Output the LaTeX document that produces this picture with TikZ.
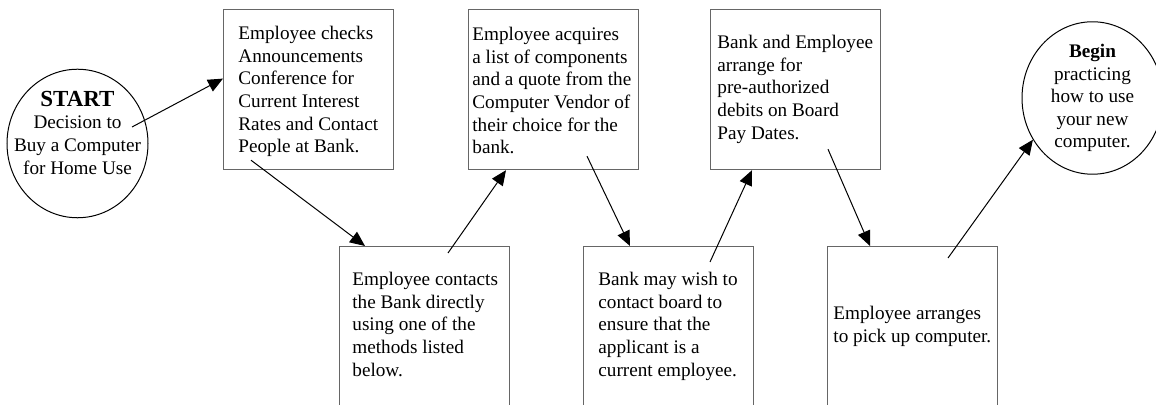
\documentclass[tikz,border=0pt]{standalone}
\usepackage{fontspec}
\setmainfont{Liberation Serif}
\usetikzlibrary{positioning, shapes.geometric, arrows.meta}

\tikzset{
  stepbox/.style={draw=black!60, line width=0.6pt, rectangle, anchor=north west, inner sep=0pt, minimum width=85pt, minimum height=80pt},
  lowbox/.style={stepbox, minimum height=84pt},
  steptext/.style={align=left, inner sep=0pt, anchor=north west, font=\fontsize{9.6}{11.3}\selectfont},
  endnode/.style={draw, ellipse, line width=0.5pt, inner sep=0pt, minimum width=70.5pt, minimum height=73.5pt, align=center, font=\fontsize{9.6}{11.3}\selectfont},
  flow/.style={-{Triangle[length=7.5pt, width=6.5pt]}, line width=0.5pt},
}

\begin{document}
\begin{tikzpicture}[x=0.5pt, y=-0.5pt]
    \path[use as bounding box, clip] (0,0) rectangle (1156,405);

    \node[endnode, inner xsep=-8pt] (S) at (77.5,143.5) {{\fontsize{11.5}{13}\selectfont\bfseries START}\\Decision to\\Buy a Computer\\for Home Use\rule[-11pt]{0pt}{0pt}};
    \node[endnode] (G) at (1092.5,98) {\textbf{Begin}\\practicing\\how to use\\your new\\computer.};

    \node[stepbox] (A) at (223,9) {};
    \node[lowbox] (B) at (339,246) {};
    \node[stepbox] (C) at (468,9) {};
    \node[lowbox] (D) at (583,246) {};
    \node[stepbox] (E) at (710,9) {};
    \node[lowbox] (F) at (827,246) {};

    \node[steptext, below right=8.5pt and 7.5pt of A.north west] (a) {Employee checks\\Announcements\\Conference for\\Current Interest\\Rates and Contact\\People at Bank.};
    \node[steptext, below right=13pt and 6.5pt of B.north west] (b) {Employee contacts\\the Bank directly\\using one of the\\methods listed\\below.};
    \node[steptext, below right=9pt and 2pt of C.north west] (c) {Employee acquires\\a list of components\\and a quote from the\\Computer Vendor of\\their choice for the\\bank.};
    \node[steptext, below right=13pt and 7.5pt of D.north west] (d) {Bank may wish to\\contact board to\\ensure that the\\applicant is a\\current employee.};
    \node[steptext, below right=13pt and 3.5pt of E.north west] (e) {Bank and Employee\\arrange for\\pre-authorized\\debits on Board\\Pay Dates.};
    \node[steptext, below right=30pt and 3pt of F.north west] (f) {Employee arranges\\to pick up computer.};

    \path[flow]
    ([shift={(54.5,-16.5)}]S.center) edge ([shift={(0,-11)}]A.west)
    ([shift={(28,-10)}]A.south west) edge ([shift={(26,0)}]B.north west)
    ([shift={(109,7)}]B.north west) edge ([shift={(38,0)}]C.south west)
    ([shift={(119,-14)}]C.south west) edge ([shift={(47,0)}]D.north west)
    ([shift={(127,16)}]D.north west) edge ([shift={(42,0)}]E.south west)
    ([shift={(118,-21)}]E.south west) edge ([shift={(43,0)}]F.north west)
    ([shift={(121,12)}]F.north west) edge (G.215)
    ;
\end{tikzpicture}
\end{document}
